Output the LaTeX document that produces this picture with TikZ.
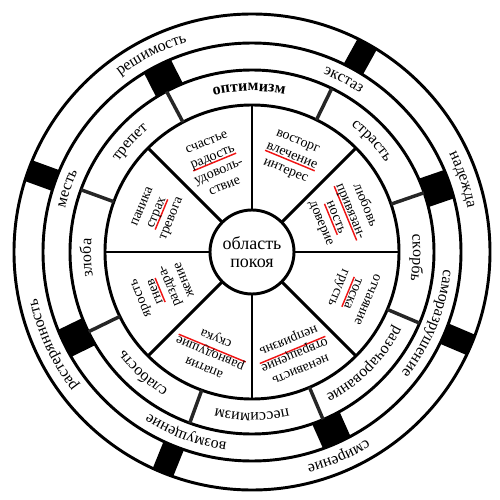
\documentclass[tikz,border=0pt]{standalone}
\usepackage{fontspec}
\setmainfont{Liberation Serif}
\usetikzlibrary{decorations.text}
\definecolor{markred}{RGB}{240,20,20}
\newsavebox\wordbox
\newcommand\redword[1]{\sbox\wordbox{#1}\rlap{\color{markred}\rule[-2.2pt]{\wd\wordbox}{1.1pt}}\usebox\wordbox}
\newcommand\ringfont{\fontsize{12}{14}\selectfont}
% a label on a ring, set clockwise along the arc round the angle #2, baseline at radius #3
\newcommand\ringlabel[4][]{%
  \path[decorate, decoration={text along path, text align=center, text={|\ringfont#1|#4}}]
    ({#2+40}:#3) arc[start angle={#2+40}, end angle={#2-40}, radius=#3];}

\begin{document}
\begin{tikzpicture}[x=0.75pt, y=0.75pt,
    ring/.style={line width=2.2pt},
    spoke/.style={line width=2.2pt},
    divider/.style={line width=2.6pt, black!85},
    block/.style={fill=black},
    feeling/.style={font=\fontsize{10.5}{11.8}\selectfont, align=center, inner sep=0pt}]
  \useasboundingbox (-252,-248) rectangle (248,252);
  % the four rings
  \foreach \r in {238, 209, 182, 147}
    \draw[ring] (0,0) circle[radius=\r];
  % spokes of the inner sectors
  \foreach \a in {0,45,...,315}
    \draw[spoke] (\a:42) -- (\a:147);
  % dividers of the third ring
  \foreach \a in {19, 64, 118, 160, 206, 250, 293, 337}
    \draw[divider] (\a:147) -- (\a:182);
  % black blocks in the outer ring and in the second ring
  \foreach \a in {61, 160, 248, 337}
    \fill[block, rotate=\a] (209,-11) rectangle (238,11);
  \foreach \a in {19, 117, 206, 294}
    \fill[block, rotate=\a] (182,-15) rectangle (209,15);
  % centre
  \node[circle, draw, line width=2.2pt, fill=white, minimum size=63pt, inner sep=0pt,
    align=center, font=\fontsize{13.5}{13.5}\selectfont] (calm) at (0,0) {область\\покоя};
  % outer ring
  \ringlabel{117}{220}{решимость}
  \ringlabel{19}{220}{надежда}
  \ringlabel{293}{220}{смирение}
  \ringlabel{205}{220}{растерянность}
  % second ring
  \ringlabel{62}{192}{экстаз}
  \ringlabel{161}{192}{месть}
  \ringlabel{250}{192}{возмущение}
  \ringlabel{338}{192}{саморазрушение}
  % third ring
  \ringlabel[\bfseries]{91}{161}{оптимизм}
  \ringlabel{43}{161}{страсть}
  \ringlabel{358}{161}{скорбь}
  \ringlabel{315}{161}{разочарование}
  \ringlabel{270}{161}{пессимизм}
  \ringlabel{228}{161}{слабость}
  \ringlabel{182}{161}{злоба}
  \ringlabel{138}{161}{трепет}
  % inner sectors
  \node[feeling, rotate=22.5] (joy) at (112.5:95) {счастье\\\redword{радость}\\удоволь-\\ствие};
  \node[feeling, rotate=-22.5] (lust) at (67.5:103) {восторг\\\redword{влечение}\\интерес};
  \node[feeling, rotate=-67.5] (love) at (22.5:99) {любовь\\\redword{привязан-}\\\redword{ность}\\доверие};
  \node[feeling, rotate=247.5] (grief) at (337.5:108) {отчаяние\\\redword{тоска}\\грусть};
  \node[feeling, rotate=202.5] (hate) at (292.5:110) {ненависть\\\redword{отвращение}\\неприязнь};
  \node[feeling, rotate=157.5] (apathy) at (247.5:108) {апатия\\\redword{равнодушие}\\скука};
  \node[feeling, rotate=112.5] (anger) at (202.5:97) {ярость\\\redword{гнев}\\раздра-\\жение};
  \node[feeling, rotate=67.5] (fear) at (157.5:102) {паника\\\redword{страх}\\тревога};
\end{tikzpicture}
\end{document}
